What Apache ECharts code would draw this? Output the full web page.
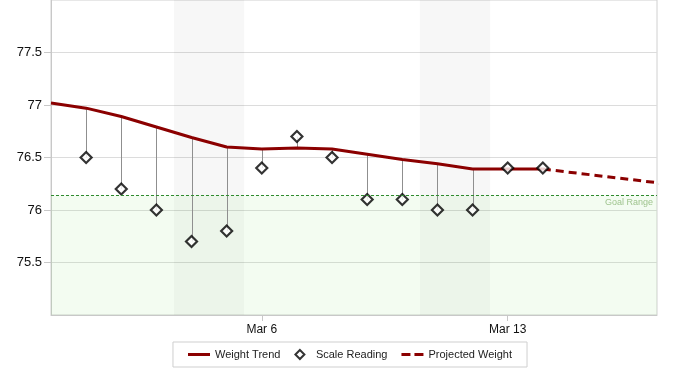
<!DOCTYPE html>
<html>
<head>
<meta charset="utf-8">
<script src="https://cdn.jsdelivr.net/npm/echarts@6/dist/echarts.min.js"></script>
<style>
    html, body {margin: 0; padding: 0; background: #fff;}
    #main {width: 700px; height: 380px;}
</style>
</head>
<body>
<div id="main"></div>
<script>
    // day of March (0 = Feb 28)
    var trendDays = [0, 1, 2, 3, 4, 5, 6, 7, 8, 9, 10, 11, 12, 13, 14];
    var trendValues = [77.02, 76.97, 76.89, 76.79, 76.69, 76.60, 76.58, 76.59, 76.58, 76.53, 76.48, 76.44, 76.39, 76.39, 76.39];
    var readingDays = [1, 2, 3, 4, 5, 6, 7, 8, 9, 10, 11, 12, 13, 14];
    var readingValues = [76.5, 76.2, 76.0, 75.7, 75.8, 76.4, 76.7, 76.5, 76.1, 76.1, 76.0, 76.0, 76.4, 76.4];
    var projectedDays = [14, 18];
    var projectedValues = [76.39, 76.23];
    var weekends = [[3.5, 5.5], [10.5, 12.5]];
    var goalValue = 76.14;
    var yTicks = [75.5, 76, 76.5, 77, 77.5];
    var xTicks = [6, 13];

    var font = 'Liberation Sans, Arial, sans-serif';
    var red = '#8b0000';

    var trendData = trendDays.map(function (d, i) { return [d, trendValues[i]]; });
    var readingData = readingDays.map(function (d, i) { return [d, readingValues[i]]; });
    var projectedData = projectedDays.map(function (d, i) { return [d, projectedValues[i]]; });
    var connectorData = readingDays.map(function (d, i) {
        return [d, readingValues[i], trendValues[trendDays.indexOf(d)]];
    });

    var charts = echarts.init(document.getElementById('main'));
    charts.setOption({
        animation: false,
        textStyle: {fontFamily: font},
        grid: {left: 51, right: 43, top: 0, bottom: 65, show: true, borderColor: '#d0d0d0', borderWidth: 1},
        legend: {
            data: [
                {name: 'Weight Trend', icon: 'path://M0,0H22V3H0Z', itemStyle: {color: red, borderWidth: 0}},
                {name: 'Scale Reading', icon: 'path://M5,0L10,5L5,10L0,5Z',
                    itemStyle: {color: '#fff', borderColor: '#000', borderWidth: 2}},
                {name: 'Projected Weight', icon: 'path://M0,0H9V3H0ZM13,0H22V3H13Z', itemStyle: {color: red, borderWidth: 0}}
            ],
            left: 'center', top: 342, symbolKeepAspect: true,
            borderColor: '#cfcfcf', borderWidth: 1, padding: [7, 15],
            itemWidth: 22, itemHeight: 9, itemGap: 14,
            textStyle: {fontSize: 11, color: '#222', fontFamily: font}
        },
        xAxis: {
            type: 'value', min: 0, max: 17.25,
            axisLine: {lineStyle: {color: '#c8c8c8'}},
            axisTick: {customValues: xTicks, length: 6, lineStyle: {color: '#c8c8c8'}},
            axisLabel: {
                customValues: xTicks, margin: 9, fontSize: 12, color: '#111',
                formatter: function (v) { return 'Mar ' + v; }
            },
            splitLine: {show: false}
        },
        yAxis: {
            type: 'value', min: 75, max: 78, interval: 0.5,
            axisLine: {show: true, lineStyle: {color: '#c8c8c8'}},
            axisTick: {show: true, customValues: yTicks, length: 7, lineStyle: {color: '#c8c8c8'}},
            axisLabel: {customValues: yTicks, margin: 9, fontSize: 13, color: '#111'},
            splitLine: {lineStyle: {color: '#dcdcdc'}}
        },
        series: [
            {
                name: 'bands', type: 'line', data: [], silent: true, z: 0,
                markArea: {
                    silent: true,
                    itemStyle: {color: 'rgba(0,0,0,0.032)'},
                    data: weekends.map(function (w) { return [{xAxis: w[0]}, {xAxis: w[1]}]; })
                }
            },
            {
                name: 'goal', type: 'line', data: [], silent: true, z: 1,
                markArea: {
                    silent: true,
                    itemStyle: {color: 'rgba(120,220,100,0.09)'},
                    data: [[{yAxis: 75}, {yAxis: goalValue}]]
                },
                markLine: {
                    silent: true, symbol: 'none',
                    lineStyle: {color: '#2f8a2f', type: [3, 2], width: 1, opacity: 1},
                    label: {
                        position: 'insideEndBottom', formatter: 'Goal Range',
                        color: '#9fc48e', fontSize: 9, distance: [4, 3]
                    },
                    data: [{yAxis: goalValue}]
                }
            },
            {
                name: 'connectors', type: 'custom', z: 2, silent: true,
                data: connectorData,
                renderItem: function (params, api) {
                    var x = api.value(0);
                    var p1 = api.coord([x, api.value(1)]);
                    var p2 = api.coord([x, api.value(2)]);
                    return {
                        type: 'line',
                        shape: {x1: Math.round(p1[0]) + 0.5, y1: p1[1], x2: Math.round(p2[0]) + 0.5, y2: p2[1]},
                        style: {stroke: '#8f8f8f', lineWidth: 1}
                    };
                }
            },
            {
                name: 'Weight Trend', type: 'line', z: 3,
                data: trendData, symbol: 'none',
                lineStyle: {color: red, width: 3},
                itemStyle: {color: red}
            },
            {
                name: 'Projected Weight', type: 'line', z: 3,
                data: projectedData, symbol: 'none',
                lineStyle: {color: red, width: 3, type: [8, 5]},
                itemStyle: {color: red}
            },
            {
                name: 'Scale Reading', type: 'scatter', z: 4,
                data: readingData, symbol: 'diamond', symbolSize: 11,
                itemStyle: {color: '#fff', borderColor: '#000', borderWidth: 2.2}
            }
        ]
    });
</script>
</body>
</html>
